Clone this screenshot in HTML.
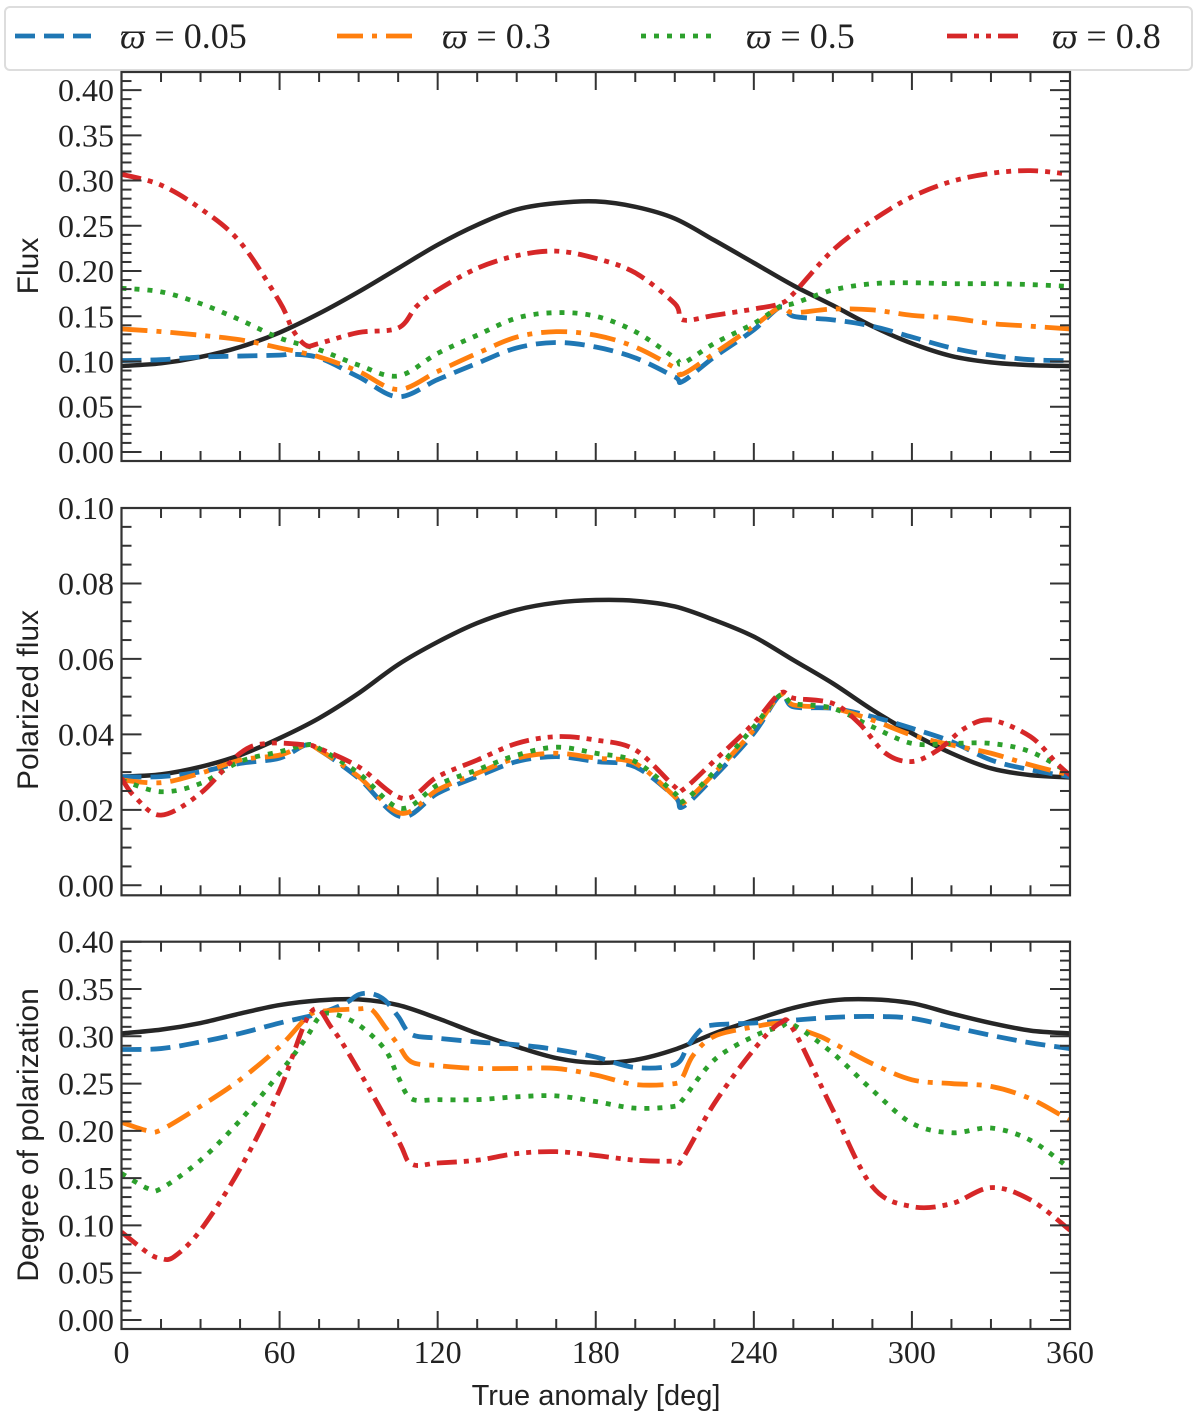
<!DOCTYPE html>
<html><head><meta charset="utf-8">
<style>
html,body{margin:0;padding:0;background:#fff;}
svg{display:block;}
text{font-family:"Liberation Serif",serif;fill:#222;}
.lab{font-family:"Liberation Sans",sans-serif;}
</style></head>
<body>
<svg id="chart" width="1200" height="1420" viewBox="0 0 1200 1420" xmlns="http://www.w3.org/2000/svg">
<g id="legend">
<rect x="5" y="7" width="1187" height="63" rx="5" fill="#fff" stroke="#ddd" stroke-width="2"/>
</g>
<g id="panels"></g>
<text class="lab" x="596" y="1405" font-size="29" text-anchor="middle">True anomaly [deg]</text>
</svg>
<script>
// ---- data ----
const xTicks = [0,60,120,180,240,300,360];
const legendValues = ["0.05","0.3","0.5","0.8"];
const blackDeg = [0,15,30,45,60,75,90,105,120,135,150,165,180,195,210,225,240,255,270,285,300,315,330,345,360];

// Panel 1: Flux
const fluxBlack = [0.095,0.098,0.105,0.116,0.132,0.153,0.177,0.203,0.229,0.251,0.268,0.275,0.277,0.271,0.258,0.234,0.209,0.184,0.162,0.139,0.120,0.106,0.099,0.096,0.095];
const fluxBlueDeg = [0,15,30,45,60,65,75,90,105,120,135,150,165,180,195,210,213,225,240,250,255,270,285,300,315,330,345,360];
const fluxBlue = [0.101,0.102,0.105,0.106,0.107,0.108,0.104,0.083,0.061,0.080,0.098,0.115,0.121,0.116,0.104,0.083,0.078,0.105,0.135,0.160,0.150,0.146,0.139,0.127,0.115,0.107,0.102,0.101];
const fluxOGDeg = [0,15,30,45,60,75,90,105,120,135,150,165,180,195,210,213,225,240,250,255,270,285,300,315,330,345,360];
const fluxOrange = [0.136,0.133,0.129,0.124,0.115,0.105,0.089,0.069,0.089,0.109,0.127,0.133,0.129,0.116,0.093,0.086,0.109,0.139,0.160,0.154,0.158,0.157,0.151,0.148,0.142,0.139,0.136];
const fluxGreen = [0.181,0.177,0.164,0.146,0.126,0.113,0.096,0.084,0.109,0.129,0.148,0.154,0.150,0.133,0.104,0.098,0.120,0.142,0.161,0.164,0.179,0.186,0.187,0.186,0.186,0.185,0.183];
const fluxRedDeg = [0,15,30,45,60,65,70,75,90,105,112,120,135,150,165,180,195,210,213,225,240,250,255,270,285,300,315,330,345,360];
const fluxRed = [0.307,0.295,0.269,0.232,0.166,0.135,0.118,0.120,0.132,0.137,0.161,0.179,0.203,0.217,0.222,0.214,0.198,0.164,0.146,0.151,0.158,0.164,0.175,0.223,0.256,0.282,0.299,0.308,0.311,0.307];
const fluxTicks = ["0.00","0.05","0.10","0.15","0.20","0.25","0.30","0.35","0.40"];

// Panel 2: Polarized flux
const pfBlack = [0.0288,0.0294,0.0314,0.0345,0.039,0.0443,0.0509,0.0585,0.0645,0.0695,0.073,0.0749,0.0756,0.0754,0.0739,0.0703,0.0659,0.0597,0.0535,0.0465,0.0403,0.035,0.031,0.0292,0.0286];
const pfDeg = [0,15,30,45,60,70,75,90,106,120,135,150,165,180,195,210,213,225,240,250,255,270,285,300,315,330,345,360];
const pfBlue = [0.0288,0.0288,0.0301,0.0323,0.0337,0.0372,0.0359,0.0284,0.0182,0.0244,0.0288,0.0328,0.0341,0.0328,0.0314,0.0235,0.0208,0.0288,0.0403,0.0504,0.0473,0.0469,0.0447,0.0416,0.0381,0.0332,0.0306,0.0288];
const pfOrange = [0.0279,0.0272,0.0297,0.0332,0.0345,0.0372,0.0359,0.0288,0.0191,0.0253,0.0297,0.0337,0.035,0.0337,0.0323,0.0235,0.0217,0.0297,0.0412,0.0504,0.0478,0.0469,0.0438,0.0398,0.0372,0.035,0.0319,0.0292];
const pfGreen = [0.0279,0.0248,0.027,0.0328,0.0354,0.0372,0.0363,0.0297,0.0204,0.0266,0.0306,0.0345,0.0366,0.035,0.0328,0.0244,0.0222,0.0301,0.042,0.0504,0.0482,0.0469,0.042,0.0376,0.0376,0.0376,0.0354,0.0297];
const pfRedDeg = [0,5,15,30,45,55,70,75,90,107,120,135,150,165,180,195,210,213,225,240,250,255,270,280,290,300,310,320,330,345,355,360];
const pfRed = [0.0284,0.0235,0.0186,0.0244,0.035,0.0376,0.0372,0.0363,0.0314,0.023,0.0288,0.0332,0.0376,0.0394,0.0385,0.0359,0.0261,0.0253,0.033,0.043,0.0509,0.0496,0.0482,0.0429,0.035,0.0328,0.0359,0.0416,0.0438,0.0394,0.0323,0.0292];
const pfTicks = ["0.00","0.02","0.04","0.06","0.08","0.10"];

// Panel 3: Degree of polarization
const dpBlack = [0.303,0.307,0.314,0.324,0.333,0.338,0.339,0.333,0.319,0.303,0.289,0.277,0.272,0.275,0.286,0.303,0.317,0.330,0.338,0.339,0.335,0.324,0.314,0.306,0.303];
const dpBlueDeg = [0,15,30,45,60,75,85,90,95,100,105,110,120,135,150,165,180,195,210,215,220,225,240,255,270,285,300,315,330,345,360];
const dpBlue = [0.286,0.287,0.294,0.303,0.314,0.324,0.335,0.344,0.345,0.338,0.321,0.302,0.298,0.294,0.291,0.286,0.278,0.267,0.270,0.290,0.307,0.312,0.314,0.317,0.320,0.321,0.319,0.310,0.301,0.293,0.287];
const dpOrangeDeg = [0,10,15,30,45,60,70,75,90,95,100,105,110,120,135,150,165,180,195,210,213,217,225,240,250,255,265,270,285,300,315,330,345,360];
const dpOrange = [0.209,0.200,0.201,0.226,0.254,0.289,0.319,0.326,0.329,0.328,0.310,0.291,0.273,0.269,0.266,0.266,0.266,0.259,0.249,0.250,0.257,0.280,0.300,0.310,0.314,0.310,0.300,0.293,0.271,0.254,0.250,0.247,0.234,0.211];
const dpGreenDeg = [0,10,15,30,45,60,70,75,80,90,100,105,110,120,135,150,165,180,195,210,213,225,240,250,255,270,285,300,315,330,345,360];
const dpGreen = [0.155,0.139,0.139,0.169,0.211,0.261,0.298,0.320,0.324,0.312,0.286,0.257,0.234,0.233,0.233,0.236,0.237,0.231,0.224,0.226,0.233,0.275,0.300,0.310,0.312,0.282,0.243,0.208,0.198,0.203,0.190,0.160];
const dpRedDeg = [0,10,15,20,30,45,60,72,80,90,105,110,120,135,150,165,180,195,210,213,225,240,250,255,270,285,300,315,330,345,360];
const dpRed = [0.093,0.071,0.065,0.067,0.095,0.160,0.243,0.326,0.308,0.264,0.190,0.165,0.166,0.169,0.176,0.178,0.174,0.169,0.168,0.171,0.229,0.286,0.314,0.307,0.222,0.141,0.120,0.123,0.140,0.127,0.095];
const dpTicks = ["0.00","0.05","0.10","0.15","0.20","0.25","0.30","0.35","0.40"];

// ---- styles ----
const NS = "http://www.w3.org/2000/svg";
const COL = {blue:"#1f77b4", orange:"#ff7f0e", green:"#2ca02c", red:"#d62728", black:"#262626"};
const DASH = {blue:"20 9", orange:"26 9 5 9", green:"5 8", red:"20 7 5 7 5 7", black:"none"};
const X0 = 121.5, X1 = 1070;
function xs(d){ return X0 + (d/360)*(X1-X0); }

const panels = [
 {name:"flux", top:72, bottom:461, vmin:-0.01, vmax:0.42, major:0.05, minor:0.01, ticks:fluxTicks, title:"Flux", titleY:266,
  series:[["black",blackDeg,fluxBlack],["blue",fluxBlueDeg,fluxBlue],["orange",fluxOGDeg,fluxOrange],["green",fluxOGDeg,fluxGreen],["red",fluxRedDeg,fluxRed]]},
 {name:"polarized-flux", top:508, bottom:895.3, vmin:-0.00265, vmax:0.10, major:0.02, minor:0.005, ticks:pfTicks, title:"Polarized flux", titleY:700,
  series:[["black",blackDeg,pfBlack],["blue",pfDeg,pfBlue],["orange",pfDeg,pfOrange],["green",pfDeg,pfGreen],["red",pfRedDeg,pfRed]]},
 {name:"degree-of-polarization", top:941.7, bottom:1329, vmin:-0.0095, vmax:0.40, major:0.05, minor:0.01, ticks:dpTicks, title:"Degree of polarization", titleY:1135,
  series:[["black",blackDeg,dpBlack],["blue",dpBlueDeg,dpBlue],["orange",dpOrangeDeg,dpOrange],["green",dpGreenDeg,dpGreen],["red",dpRedDeg,dpRed]]}
];

function el(tag, attrs, parent){
  const e = document.createElementNS(NS, tag);
  for (const k in attrs) e.setAttribute(k, attrs[k]);
  parent.appendChild(e); return e;
}
function spline(pts){
  let d = "M"+pts[0][0].toFixed(2)+","+pts[0][1].toFixed(2);
  for (let i=0;i<pts.length-1;i++){
    const p0=pts[Math.max(0,i-1)], p1=pts[i], p2=pts[i+1], p3=pts[Math.min(pts.length-1,i+2)];
    const c1=[p1[0]+(p2[0]-p0[0])/6, p1[1]+(p2[1]-p0[1])/6];
    const c2=[p2[0]-(p3[0]-p1[0])/6, p2[1]-(p3[1]-p1[1])/6];
    d += " C"+c1[0].toFixed(2)+","+c1[1].toFixed(2)+" "+c2[0].toFixed(2)+","+c2[1].toFixed(2)+" "+p2[0].toFixed(2)+","+p2[1].toFixed(2);
  }
  return d;
}

const root = document.getElementById("panels");
panels.forEach((P, pi) => {
  const ys = v => P.bottom - (v - P.vmin)/(P.vmax - P.vmin)*(P.bottom - P.top);
  const g = el("g", {}, root);
  
  
  const cid = "clip"+pi;
  const cp = el("clipPath", {id:cid}, g);
  el("rect", {x:X0, y:P.top, width:X1-X0, height:P.bottom-P.top}, cp);

  const sg = el("g", {"clip-path":"url(#"+cid+")"}, g);
  P.series.forEach(s => {
    const [c, degs, vals] = s;
    const pts = degs.map((d,i)=>[xs(d), ys(vals[i])]);
    const path = el("path", {d:spline(pts), fill:"none", stroke:COL[c], "stroke-width": c==="black"?4.5:4.8,
      "stroke-dasharray":DASH[c], "stroke-linejoin":"round", "stroke-linecap":"butt"}, sg);
    
    
  });

  const fr = el("rect", {x:X0, y:P.top, width:X1-X0, height:P.bottom-P.top, fill:"none", stroke:"#333", "stroke-width":2.2}, g);
  
  

  const tg = el("g", {stroke:"#333", "stroke-width":2}, g);
  const nMinor = Math.round((P.vmax)/P.minor);
  for (let k=0;k<=nMinor;k++){
    const v = k*P.minor, y = ys(v);
    if (y < P.top-0.5) continue;
    const isMaj = Math.abs(v/P.major - Math.round(v/P.major)) < 1e-6;
    const L = isMaj?20:10;
    el("line", {x1:X0, x2:X0+L, y1:y, y2:y}, tg);
    el("line", {x1:X1, x2:X1-L, y1:y, y2:y}, tg);
  }
  P.ticks.forEach((t) => {
    const y = ys(parseFloat(t));
    const tx = el("text", {x:114, y:y+11, "font-size":32, "text-anchor":"end"}, g);
    tx.textContent = t;
    
    
  });
  for (let d=0; d<=360; d+=15){
    const x = xs(d), L = (d%60===0)?18:10;
    el("line", {x1:x, x2:x, y1:P.bottom, y2:P.bottom-L}, tg);
    el("line", {x1:x, x2:x, y1:P.top, y2:P.top+L}, tg);
  }
  const yt = el("text", {class:"lab", x:0, y:0, "font-size":30, "text-anchor":"middle",
    transform:"translate(38,"+P.titleY+") rotate(-90)"}, g);
  yt.textContent = P.title;
  
  
});

xTicks.forEach(d => {
  const t = el("text", {x:xs(d), y:1363, "font-size":32, "text-anchor":"middle"}, document.getElementById("chart"));
  t.textContent = String(d);
  
  
});

const lg = document.getElementById("legend");
const legendColors = ["blue","orange","green","red"];
const legendX = [15, 337, 641, 947];
legendColors.forEach((c,i) => {
  const x = legendX[i];
  const ln = el("line", {x1:x, x2:x+76, y1:36, y2:36, stroke:COL[c], "stroke-width":4.8, "stroke-dasharray":DASH[c]}, lg);
  
  
  const t = el("text", {x:x+105, y:48, "font-size":36, "xml:space":"preserve"}, lg);
  const s1 = el("tspan", {"font-style":"italic"}, t);
  s1.textContent = "ϖ";
  const s2 = el("tspan", {}, t);
  s2.textContent = "  =  " + legendValues[i];
  
  
});
</script>
</body></html>
